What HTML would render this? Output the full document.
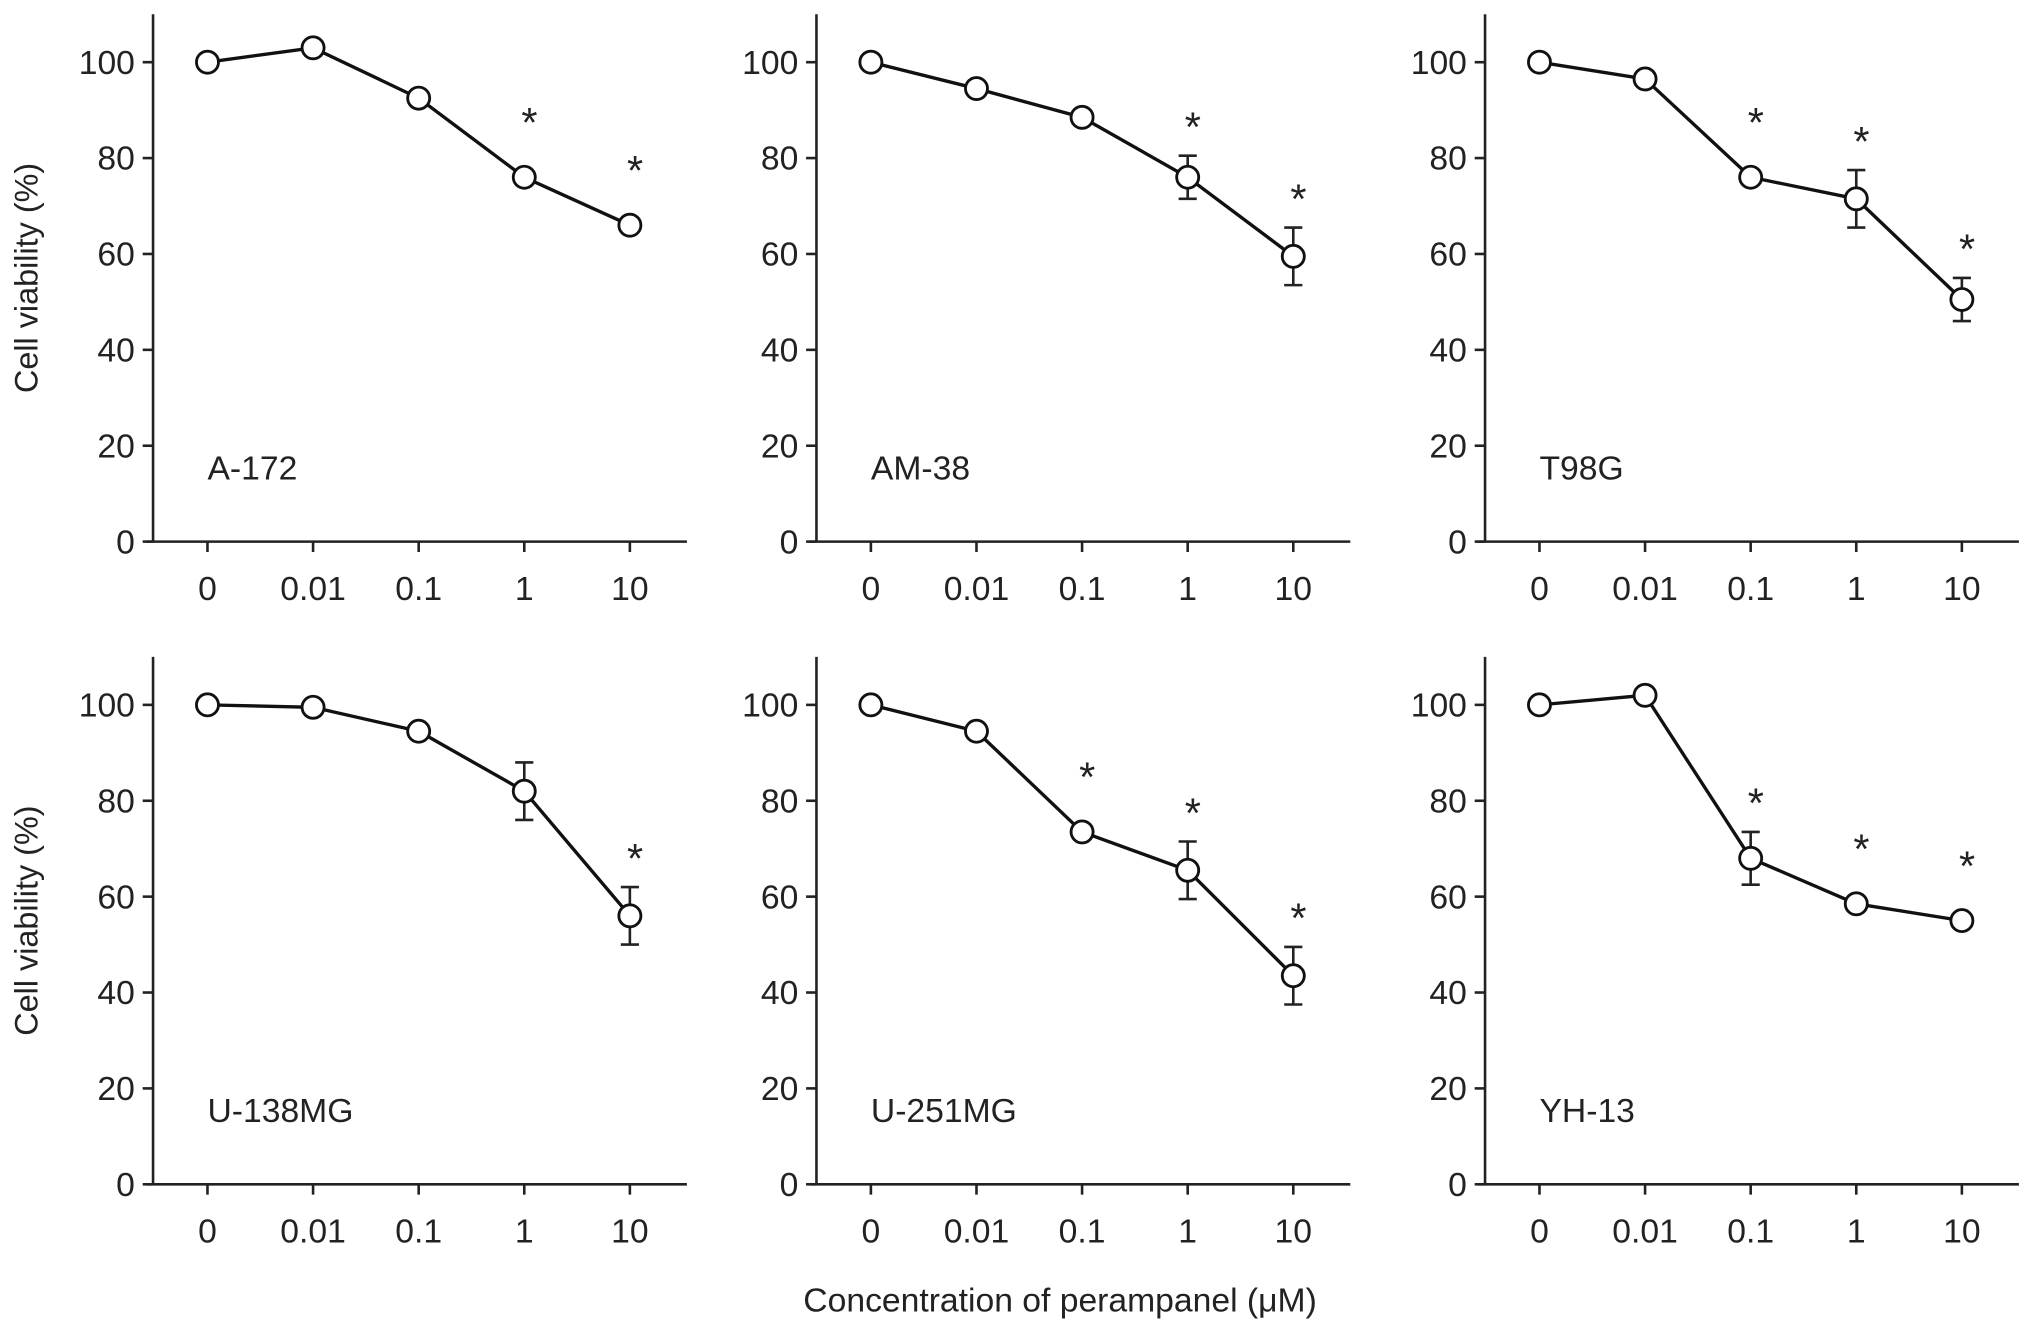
<!DOCTYPE html>
<html><head><meta charset="utf-8"><title>Cell viability vs perampanel</title>
<style>
html,body{margin:0;padding:0;background:#fff;}
svg{display:block;}
text{font-family:"Liberation Sans",Arial,sans-serif;fill:#222;}
</style></head>
<body>
<svg id="fig" width="2032" height="1332" viewBox="0 0 1568 1028" xmlns="http://www.w3.org/2000/svg">
<text x="818" y="1012" font-size="26" text-anchor="middle">Concentration of perampanel (μM)</text>
</svg>
<script>
const categories = ["0","0.01","0.1","1","10"];
const yTicks = [0,20,40,60,80,100];
const panelNames = ["A-172","AM-38","T98G","U-138MG","U-251MG","YH-13"];
const seriesA172 = [100,103,92.5,76,66];
const seriesAM38 = [100,94.5,88.5,76,59.5];
const seriesT98G = [100,96.5,76,71.5,50.5];
const seriesU138 = [100,99.5,94.5,82,56];
const seriesU251 = [100,94.5,73.5,65.5,43.5];
const seriesYH13 = [100,102,68,58.5,55];
const errA172 = [0,0,0,0,0];
const errAM38 = [0,0,0,4.5,6];
const errT98G = [0,0,0,6,4.5];
const errU138 = [0,0,0,6,6];
const errU251 = [0,0,0,6,6];
const errYH13 = [0,0,5.5,0,0];
const starA172 = [0,0,0,1,1];
const starAM38 = [0,0,0,1,1];
const starT98G = [0,0,1,1,1];
const starU138 = [0,0,0,0,1];
const starU251 = [0,0,1,1,1];
const starYH13 = [0,0,1,1,1];

const allSeries=[seriesA172,seriesAM38,seriesT98G,seriesU138,seriesU251,seriesYH13];
const allErr=[errA172,errAM38,errT98G,errU138,errU251,errYH13];
const allStar=[starA172,starAM38,starT98G,starU138,starU251,starYH13];
const NS="http://www.w3.org/2000/svg";
const svg=document.getElementById('fig');
function mk(tag,attrs,parent){const e=document.createElementNS(NS,tag);for(const k in attrs)e.setAttribute(k,attrs[k]);parent.appendChild(e);return e;}
const axX=[118,630,1146], row0=[418,914];
for(let p=0;p<6;p++){
  const col=p%3,row=Math.floor(p/3);
  const ax=axX[col], y0=row0[row];
  const yS=v=>y0-v*3.7;
  const xS=i=>ax+42+i*81.5;
  const g=mk('g',{},svg);
  
  
  const yl=mk('line',{x1:ax,y1:yS(110),x2:ax,y2:y0,stroke:'#222','stroke-width':2},g);
  
  
  const xl=mk('line',{x1:ax-5,y1:y0,x2:ax+412,y2:y0,stroke:'#222','stroke-width':2},g);
  
  
  yTicks.forEach(t=>{
    mk('line',{x1:ax-8,y1:yS(t),x2:ax,y2:yS(t),stroke:'#222','stroke-width':2},g);
    const tx=mk('text',{x:ax-14,y:yS(t)+9,'font-size':26,'text-anchor':'end'},g);
    tx.textContent=t;
    
    
  });
  categories.forEach((c,i)=>{
    mk('line',{x1:xS(i),y1:y0,x2:xS(i),y2:y0+8,stroke:'#222','stroke-width':2},g);
    const tx=mk('text',{x:xS(i),y:y0+45,'font-size':26,'text-anchor':'middle'},g);
    tx.textContent=c;
    
    
  });
  if(col===0){
    const tt=mk('text',{x:0,y:0,'font-size':25,'text-anchor':'middle',transform:`translate(29,${yS(55)}) rotate(-90)`},g);
    tt.textContent='Cell viability (%)';
    
    
  }
  const lb=mk('text',{x:ax+42,y:yS(20)+26,'font-size':26},g);
  lb.textContent=panelNames[p];
  
  
  const s=allSeries[p],e=allErr[p],st=allStar[p];
  const pl=mk('polyline',{points:s.map((v,i)=>xS(i)+','+yS(v)).join(' '),fill:'none',stroke:'#111','stroke-width':2.6},g);
  
  
  s.forEach((v,i)=>{
    if(e[i]>0){
      const eb=mk('path',{d:`M${xS(i)},${yS(v+e[i])}V${yS(v-e[i])}M${xS(i)-7},${yS(v+e[i])}h14M${xS(i)-7},${yS(v-e[i])}h14`,stroke:'#222','stroke-width':2,fill:'none'},g);
      
      
    }
    const c=mk('circle',{cx:xS(i),cy:yS(v),r:8.5,fill:'#fff',stroke:'#111','stroke-width':2.2},g);
    
    
    if(st[i]){
      const sy=yS(v+e[i])-(e[i]>0?28:48);
      const sx=mk('text',{x:xS(i)+4,y:sy+17,'font-size':32,'text-anchor':'middle'},g);
      sx.textContent='*';
      
      
    }
  });
}
</script>
</body></html>
